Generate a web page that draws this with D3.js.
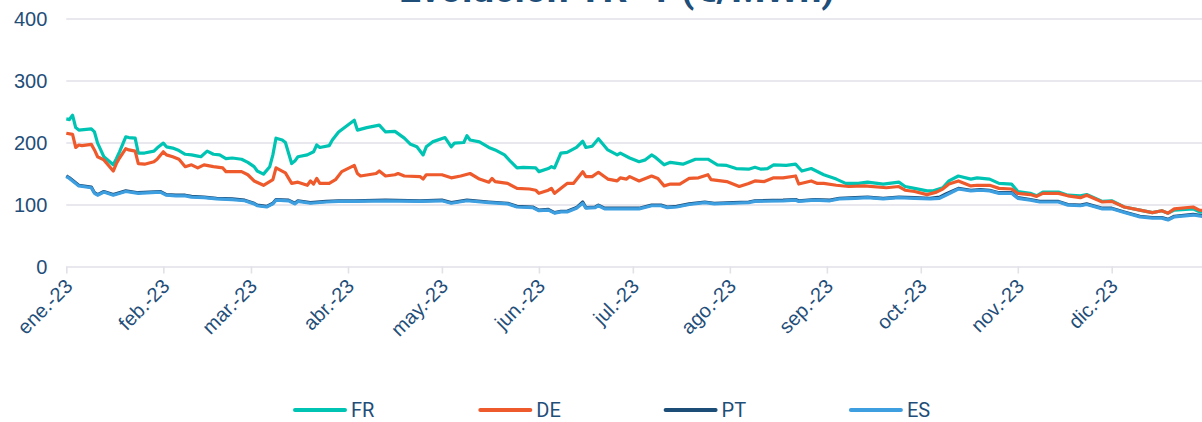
<!DOCTYPE html>
<html>
<head>
<meta charset="utf-8">
<script src="https://cdn.jsdelivr.net/npm/d3@7"></script>
<style>
  html, body { margin: 0; padding: 0; background: #fff; }
  svg { display: block; font-family: Roboto, "Noto Sans", sans-serif; }
</style>
</head>
<body>
<svg id="chart" width="1202" height="422"></svg>
<script>
// values (€/MWh), [month-day, value]
const fr = [
  ["01-01",238],["01-02",237],["01-03",244],["01-04",224],["01-05",220],["01-09",222],["01-10",217],
  ["01-11",199],["01-12",188],["01-13",177],["01-16",164],["01-17",174],["01-18",185],["01-20",209],
  ["01-21",208],["01-23",207],["01-24",183],["01-26",183],["01-29",186],["01-30",191],["02-01",199],
  ["02-02",193],["02-04",191],["02-06",187],["02-08",181],["02-10",180],["02-12",178],["02-13",177],
  ["02-15",186],["02-17",181],["02-19",180],["02-21",174],["02-23",175],["02-26",173],["02-28",168],
  ["03-02",161],["03-03",154],["03-05",149],["03-07",161],["03-08",180],["03-09",207],["03-11",204],
  ["03-12",200],["03-14",166],["03-15",170],["03-16",177],["03-19",180],["03-21",185],["03-22",196],
  ["03-23",192],["03-26",195],["03-27",204],["03-29",217],["04-03",236],["04-04",220],["04-07",224],
  ["04-11",228],["04-13",217],["04-16",218],["04-19",207],["04-21",197],["04-23",193],["04-25",180],
  ["04-26",193],["04-28",201],["05-02",208],["05-04",193],["05-05",199],["05-08",200],["05-09",211],
  ["05-10",204],["05-13",201],["05-16",192],["05-18",188],["05-21",180],["05-23",169],["05-25",159],
  ["05-27",160],["05-31",159],["06-01",153],["06-04",158],["06-05",161],["06-06",159],["06-08",183],
  ["06-10",184],["06-13",192],["06-15",202],["06-16",192],["06-18",194],["06-20",206],["06-23",188],
  ["06-26",180],["06-27",183],["06-30",175],["07-03",169],["07-05",172],["07-07",180],["07-08",177],
  ["07-11",164],["07-13",168],["07-17",165],["07-21",173],["07-25",173],["07-28",164],["07-31",163],
  ["08-03",158],["08-07",157],["08-09",160],["08-11",157],["08-13",158],["08-15",164],["08-19",163],
  ["08-22",165],["08-24",154],["08-27",158],["08-31",148],["09-04",141],["09-07",134],["09-11",134],
  ["09-14",136],["09-19",133],["09-24",136],["09-26",129],["09-29",126],["10-03",122],["10-05",122],
  ["10-08",127],["10-10",138],["10-13",146],["10-17",141],["10-19",143],["10-23",141],["10-26",134],
  ["10-30",133],["11-01",121],["11-05",118],["11-07",114],["11-09",120],["11-14",120],["11-17",115],
  ["11-21",114],["11-23",116],["11-28",105],["12-01",106],["12-05",96],["12-10",91],["12-14",87],
  ["12-17",90],["12-19",86],["12-21",91],["12-27",93],["12-29",88],["12-31",87]
];

const de = [
  ["01-01",215],["01-03",213],["01-04",192],["01-05",196],["01-06",195],["01-09",197],["01-10",188],
  ["01-11",177],["01-13",172],["01-16",154],["01-17",166],["01-18",175],["01-20",190],["01-21",188],
  ["01-23",186],["01-24",166],["01-26",165],["01-29",169],["01-30",173],["02-01",185],["02-02",180],
  ["02-04",177],["02-06",173],["02-08",161],["02-10",164],["02-12",159],["02-14",164],["02-17",161],
  ["02-20",159],["02-21",153],["02-26",153],["02-28",148],["03-02",138],["03-05",131],["03-08",140],
  ["03-09",159],["03-12",151],["03-14",134],["03-16",136],["03-19",131],["03-20",138],["03-21",133],
  ["03-22",142],["03-23",134],["03-26",134],["03-28",140],["03-30",153],["04-03",163],["04-04",150],
  ["04-05",146],["04-10",150],["04-11",154],["04-13",146],["04-16",148],["04-17",150],["04-19",146],
  ["04-24",145],["04-25",141],["04-26",148],["05-01",148],["05-04",143],["05-07",146],["05-10",150],
  ["05-13",141],["05-16",136],["05-17",142],["05-18",137],["05-22",134],["05-25",126],["05-29",125],
  ["05-31",123],["06-01",118],["06-04",123],["06-05",126],["06-06",118],["06-10",134],["06-12",134],
  ["06-15",153],["06-16",145],["06-18",145],["06-20",152],["06-23",141],["06-26",138],["06-27",143],
  ["06-29",141],["06-30",145],["07-03",138],["07-05",142],["07-07",146],["07-09",142],["07-11",130],
  ["07-13",133],["07-16",133],["07-19",142],["07-22",143],["07-25",148],["07-26",140],["07-31",137],
  ["08-04",129],["08-07",134],["08-09",138],["08-12",137],["08-15",143],["08-18",143],["08-22",146],
  ["08-23",133],["08-27",138],["08-29",134],["08-31",134],["09-04",131],["09-08",129],["09-13",130],
  ["09-20",127],["09-24",129],["09-26",123],["09-29",121],["10-03",116],["10-06",120],["10-08",125],
  ["10-10",133],["10-13",138],["10-17",130],["10-19",131],["10-23",131],["10-26",126],["10-30",125],
  ["11-01",118],["11-05",116],["11-07",113],["11-09",118],["11-14",118],["11-17",114],["11-21",111],
  ["11-23",115],["11-28",104],["12-01",105],["12-05",96],["12-10",91],["12-14",87],["12-17",90],
  ["12-19",86],["12-21",93],["12-27",96],["12-29",91],["12-31",90]
];

const pt = [
  ["01-01",146],["01-02",143],["01-04",135],["01-05",131],["01-09",128],["01-10",119],["01-11",116],
  ["01-13",121],["01-16",116],["01-20",122],["01-24",119],["01-31",121],["02-02",116],["02-05",115],
  ["02-08",115],["02-10",113],["02-14",112],["02-18",110],["02-23",109],["02-27",107],["03-02",102],
  ["03-03",99],["03-06",97],["03-08",102],["03-09",108],["03-13",107],["03-15",102],["03-16",106],
  ["03-20",103],["03-25",105],["03-29",106],["04-03",106],["04-13",107],["04-24",106],["05-01",107],
  ["05-04",103],["05-09",107],["05-16",104],["05-22",102],["05-25",97],["05-30",96],["06-01",91],
  ["06-04",92],["06-06",87],["06-08",89],["06-10",89],["06-13",95],["06-15",104],["06-16",95],
  ["06-19",96],["06-20",99],["06-22",94],["06-27",94],["07-03",94],["07-07",99],["07-10",99],
  ["07-12",96],["07-15",97],["07-19",101],["07-24",104],["07-27",102],["08-02",103],["08-07",104],
  ["08-09",106],["08-18",107],["08-22",108],["08-23",106],["08-28",108],["09-02",107],["09-05",110],
  ["09-10",111],["09-14",112],["09-19",110],["09-24",112],["09-29",111],["10-04",110],["10-07",112],
  ["10-09",117],["10-13",126],["10-17",123],["10-20",124],["10-23",123],["10-26",119],["10-30",119],
  ["11-01",111],["11-05",108],["11-08",105],["11-14",105],["11-17",100],["11-21",99],["11-23",101],
  ["11-28",94],["12-01",94],["12-05",88],["12-10",81],["12-14",79],["12-17",79],["12-19",76],
  ["12-21",81],["12-27",84],["12-31",81]
];

const es = [
  ["01-01",145],["01-02",142],["01-04",134],["01-05",130],["01-09",127],["01-10",118],["01-11",115],
  ["01-13",120],["01-16",115],["01-20",121],["01-24",118],["01-31",120],["02-02",115],["02-05",114],
  ["02-08",114],["02-10",112],["02-14",111],["02-18",109],["02-23",108],["02-27",106],["03-02",101],
  ["03-03",98],["03-06",96],["03-08",101],["03-09",107],["03-13",106],["03-15",101],["03-16",105],
  ["03-20",102],["03-25",104],["03-29",105],["04-03",105],["04-13",106],["04-24",105],["05-01",106],
  ["05-04",102],["05-09",106],["05-16",103],["05-22",101],["05-25",96],["05-30",95],["06-01",90],
  ["06-04",91],["06-06",86],["06-08",88],["06-10",88],["06-13",94],["06-15",102],["06-16",94],
  ["06-19",95],["06-20",98],["06-22",93],["06-27",93],["07-03",93],["07-07",98],["07-10",98],
  ["07-12",95],["07-15",96],["07-19",100],["07-24",103],["07-27",101],["08-02",102],["08-07",103],
  ["08-09",105],["08-18",106],["08-22",107],["08-23",105],["08-28",107],["09-02",106],["09-05",109],
  ["09-10",110],["09-14",111],["09-19",109],["09-24",111],["09-29",110],["10-04",109],["10-07",110],
  ["10-09",115],["10-13",125],["10-17",122],["10-20",123],["10-23",122],["10-26",118],["10-30",118],
  ["11-01",110],["11-05",107],["11-08",104],["11-14",104],["11-17",99],["11-21",98],["11-23",100],
  ["11-28",93],["12-01",93],["12-05",87],["12-10",80],["12-14",78],["12-17",78],["12-19",75],
  ["12-21",80],["12-27",83],["12-31",80]
];

const seriesNames = ["FR", "DE", "PT", "ES"];
const seriesColors = ["#00C4B3", "#EE5A2C", "#1D4E78", "#3D9EE0"];
const yTicks = [0, 100, 200, 300, 400];
const monthLabels = ["ene.-23", "feb.-23", "mar.-23", "abr.-23", "may.-23", "jun.-23",
  "jul.-23", "ago.-23", "sep.-23", "oct.-23", "nov.-23", "dic.-23"];
const title = "Evolución YR+1 (€/MWh)";

const svg = d3.select("#chart");
const textColor = "#1F4E79";
const gridColor = "#E1E1E8";
const left = 66.3, right = 1202;

const parse = d3.timeParse("%Y-%m-%d");
const toPoints = (arr) => arr.map(([md, v]) => ({date: parse("2023-" + md), value: v}));

const x = d3.scaleTime()
    .domain([parse("2023-01-01"), parse("2024-01-01")])
    .range([left, left + 365 * 3.13]);
const y = d3.scaleLinear().domain([0, 400]).range([266.5, 18.5]);

// title (the reference crops it at the top edge)
svg.append("text")
    .attr("x", 617)
    .attr("y", 2)
    .attr("text-anchor", "middle")
    .attr("fill", textColor)
    .style("font-size", "39px")
    .style("font-weight", "bold")
    .text(title);

// horizontal grid + y labels
const yAxis = svg.append("g")
    .attr("transform", `translate(${left},0)`)
    .call(d3.axisLeft(y).tickValues(yTicks).tickSize(-(right - left)).tickFormat(d3.format("d")));
yAxis.select(".domain").remove();
yAxis.selectAll(".tick line").attr("stroke", gridColor).attr("stroke-width", 1.6);
yAxis.selectAll(".tick text")
    .attr("x", -19)
    .attr("dy", "0.36em")
    .attr("fill", textColor)
    .style("font-size", "20px");

// x axis with month ticks
const monthTicks = d3.timeMonth.range(parse("2023-01-01"), parse("2024-01-01"));
const xAxis = svg.append("g")
    .attr("transform", `translate(0,${y(0)})`)
    .call(d3.axisBottom(x).tickValues(monthTicks).tickSize(7)
        .tickFormat((d, i) => monthLabels[i]));
xAxis.select(".domain").remove();
xAxis.selectAll(".tick line").attr("stroke", gridColor).attr("stroke-width", 1.6);
xAxis.selectAll(".tick text")
    .attr("fill", textColor)
    .style("font-size", "20px")
    .attr("text-anchor", "end")
    .attr("transform", "translate(2,16) rotate(-45)")
    .attr("y", 0)
    .attr("dy", "0.35em");

// lines
const line = d3.line()
    .x(d => x(d.date))
    .y(d => y(d.value));

const allSeries = [fr, de, pt, es];
svg.append("defs").append("clipPath").attr("id", "clip")
    .append("rect").attr("x", left - 2).attr("y", 0).attr("width", right - left + 2).attr("height", 300);

svg.append("g").attr("clip-path", "url(#clip)")
    .selectAll("path")
    .data(allSeries.map(toPoints))
    .join("path")
    .attr("d", line)
    .attr("fill", "none")
    .attr("stroke", (d, i) => seriesColors[i])
    .attr("stroke-width", 3.2)
    .attr("stroke-linejoin", "round");

// legend
const legend = svg.append("g").attr("transform", "translate(293,410)");
const items = legend.selectAll("g")
    .data(seriesNames)
    .join("g")
    .attr("transform", (d, i) => `translate(${i * 185.3},0)`);
items.append("line")
    .attr("x1", 2).attr("x2", 52)
    .attr("stroke", (d, i) => seriesColors[i])
    .attr("stroke-width", 4)
    .attr("stroke-linecap", "round");
items.append("text")
    .attr("x", 58)
    .attr("dy", "0.36em")
    .attr("fill", textColor)
    .style("font-size", "20px")
    .text(d => d);
</script>
</body>
</html>
